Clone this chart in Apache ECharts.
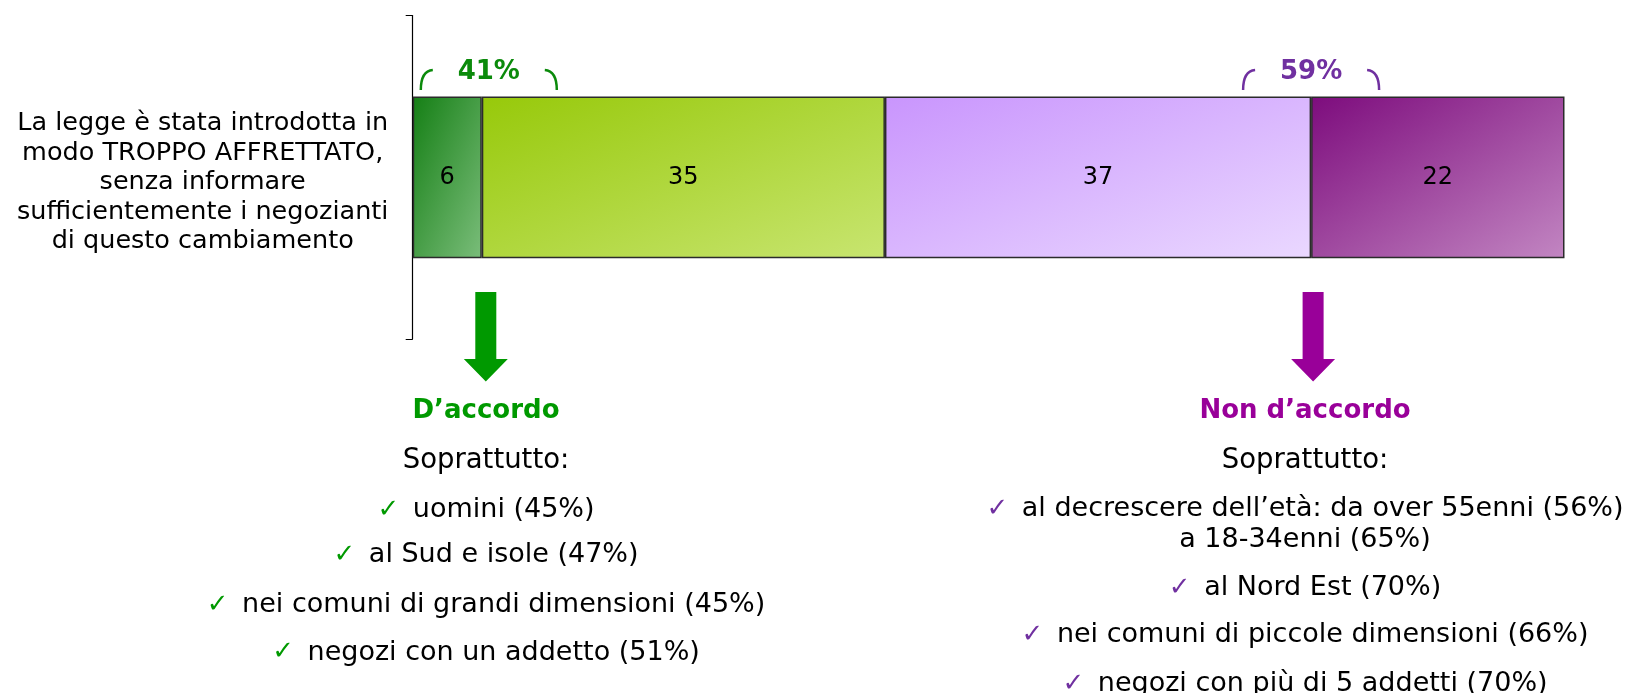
<!DOCTYPE html>
<html>
<head>
<meta charset="utf-8">
<script src="https://cdn.jsdelivr.net/npm/echarts@6/dist/echarts.min.js"></script>
<style>
  html, body { margin: 0; padding: 0; background: #fff; }
  #main { width: 1630px; height: 693px; }
</style>
</head>
<body>
<div id="main"></div>
<script>
// dati
var categories = ['La legge è stata introdotta in\nmodo TROPPO AFFRETTATO,\nsenza informare\nsufficientemente i negozianti\ndi questo cambiamento'];
var seriesNames = ['Molto d\u2019accordo', 'Abbastanza d\u2019accordo', 'Poco d\u2019accordo', 'Per niente d\u2019accordo'];
var values = [6, 35, 37, 22];
var totalLabels = ['41%', '59%'];
var agreeTitle = 'D\u2019accordo';
var disagreeTitle = 'Non d\u2019accordo';
var agreeItems = ['uomini (45%)', 'al Sud e isole (47%)', 'nei comuni di grandi dimensioni (45%)', 'negozi con un addetto (51%)'];
var disagreeItems = ['al decrescere dell\u2019età: da over 55enni (56%)\na 18-34enni (65%)', 'al Nord Est (70%)', 'nei comuni di piccole dimensioni (66%)', 'negozi con più di 5 addetti (70%)'];

var colors = [
    ['#157f15', '#7abd7a'],
    ['#97c90a', '#c8e570'],
    ['#c995fd', '#ead8ff'],
    ['#7d0c7d', '#c286c2']
];

var dom = document.getElementById('main');
var myChart = echarts.init(dom);
var FONT = 'DejaVu Sans';

var gridLeft = 412.7, gridRight = 65.5, gridTop = 15.6, gridBottom = 354;
var plotW = 1630 - gridLeft - gridRight;
var barH = (693 - gridTop - gridBottom) * 0.5;

// gradiente diagonale "scalato" sulla forma
function shapeGradient(w, h, c0, c1) {
    var s = h * h + w * w;
    return new echarts.graphic.LinearGradient(0, 0, 2 * h * h / s, 2 * w * w / s, [
        { offset: 0, color: c0 },
        { offset: 1, color: c1 }
    ]);
}

var series = [];
for (var i = 0; i < values.length; i++) {
    series.push({
        name: seriesNames[i],
        type: 'bar',
        stack: 'tot',
        barWidth: '50%',
        data: [values[i]],
        itemStyle: {
            color: shapeGradient(plotW * values[i] / 100, barH, colors[i][0], colors[i][1]),
            borderColor: '#2b2b2b',
            borderWidth: 1.5
        },
        label: {
            show: true,
            position: 'inside',
            color: '#000',
            fontFamily: FONT,
            fontSize: 24
        }
    });
}

var option = {
    animation: false,
    grid: {
        left: gridLeft,
        right: gridRight,
        top: gridTop,
        bottom: gridBottom
    },
    xAxis: {
        type: 'value',
        min: 0,
        max: 100,
        show: false
    },
    yAxis: {
        type: 'category',
        data: categories,
        axisLine: { show: true, lineStyle: { color: '#000', width: 1.2 } },
        axisTick: { show: true, length: 7, lineStyle: { color: '#000' } },
        axisLabel: { show: false }
    },
    series: series
};
myChart.setOption(option);

// annotazioni
function px(v) {
    return myChart.convertToPixel({ xAxisIndex: 0, yAxisIndex: 0 }, [v, 0])[0];
}
var xAgree = px(values[0]);
var xDisagree = px(values[0] + values[1] + values[2]);
var axisX = px(0);
var catY = myChart.convertToPixel({ xAxisIndex: 0, yAxisIndex: 0 }, [0, 0])[1];

var graphics = [];

// etichetta della categoria
graphics.push({
    type: 'text', x: axisX - 210, y: catY + 5.5,
    style: {
        text: categories[0], fill: '#000', fontFamily: FONT, fontSize: 25.5, lineHeight: 29.5,
        align: 'center', verticalAlign: 'middle'
    }
});

function bracketed(cx, text, color) {
    graphics.push({
        type: 'text', x: cx, y: 72,
        style: { text: text, fill: color, font: 'bold 26px ' + FONT, align: 'center', verticalAlign: 'middle' }
    });
    graphics.push({
        type: 'bezierCurve',
        shape: { x1: cx - 68, y1: 90, cpx1: cx - 68, cpy1: 71, x2: cx - 56, y2: 70 },
        style: { stroke: color, lineWidth: 2.5, fill: null }
    });
    graphics.push({
        type: 'bezierCurve',
        shape: { x1: cx + 56, y1: 70, cpx1: cx + 68, cpy1: 71, x2: cx + 68, y2: 90 },
        style: { stroke: color, lineWidth: 2.5, fill: null }
    });
}
bracketed(xAgree + 7, totalLabels[0], '#0b8a0b');
bracketed(xDisagree, totalLabels[1], '#7030a0');

function arrow(cx, color) {
    graphics.push({
        type: 'polygon',
        shape: {
            points: [
                [cx - 10.5, 292], [cx + 10.5, 292], [cx + 10.5, 359],
                [cx + 22, 359], [cx, 381.5], [cx - 22, 359], [cx - 10.5, 359]
            ]
        },
        style: { fill: color }
    });
}
arrow(xAgree + 4, '#009900');
arrow(xDisagree + 2, '#990099');

function block(cx, title, titleColor, items, checkColor, ys) {
    graphics.push({
        type: 'text', x: cx, y: 411.5,
        style: { text: title, fill: titleColor, font: 'bold 26px ' + FONT, align: 'center', verticalAlign: 'middle' }
    });
    graphics.push({
        type: 'text', x: cx, y: 460.4,
        style: { text: 'Soprattutto:', fill: '#000', font: '27.5px ' + FONT, align: 'center', verticalAlign: 'middle' }
    });
    var k = 0;
    for (var j = 0; j < items.length; j++) {
        var lines = items[j].split('\n');
        for (var m = 0; m < lines.length; m++) {
            var t = m === 0 ? '{c|\u2713} ' + lines[m] : lines[m];
            graphics.push({
                type: 'text', x: cx, y: ys[k],
                style: {
                    text: t, fill: '#000', font: '27px ' + FONT, align: 'center', verticalAlign: 'middle',
                    rich: { c: { fill: checkColor, fontSize: 26, fontFamily: FONT, padding: [0, 5, 0, 0] } }
                }
            });
            k++;
        }
    }
}
block(486, agreeTitle, '#009900', agreeItems, '#009900', [510.3, 555, 604.9, 652.7]);
block(1305, disagreeTitle, '#990099', disagreeItems, '#7030a0', [509, 540.4, 588, 635, 684]);

myChart.setOption({ graphic: graphics });
</script>
</body>
</html>
